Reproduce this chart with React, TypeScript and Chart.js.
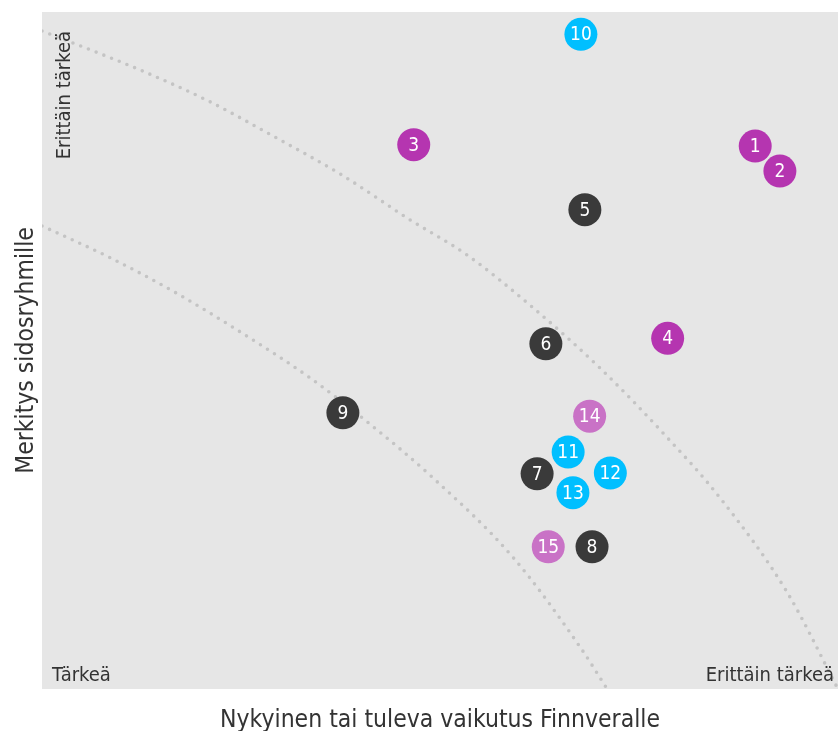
import React, { useEffect, useRef } from "react";
import { Chart, registerables } from "chart.js";

Chart.register(...registerables);

const pointLabels = ["1", "2", "3", "4", "5", "6", "7", "8", "9", "10", "11", "12", "13", "14", "15"];
const impactX = [8.96, 9.27, 4.67, 7.86, 6.82, 6.33, 6.22, 6.91, 3.78, 6.77, 6.61, 7.14, 6.67, 6.88, 6.36];
const importanceY = [8.02, 7.65, 8.04, 5.18, 7.08, 5.10, 3.18, 2.10, 4.08, 9.67, 3.50, 3.19, 2.90, 4.03, 2.10];
const groupOf = ["a", "a", "a", "a", "b", "b", "b", "b", "b", "c", "c", "c", "c", "d", "d"];
const groupColors: Record<string, string> = { a: "#b535b0", b: "#3a3a3a", c: "#00bfff", d: "#c972c6" };

const outerCurveX = [0, 0.46, 1.26, 2.1, 2.93, 3.77, 4.61, 5.34, 6.17, 7.01, 7.85, 8.52, 9.36, 10];
const outerCurveY = [9.72, 9.51, 9.13, 8.68, 8.15, 7.59, 6.94, 6.41, 5.63, 4.74, 3.72, 2.82, 1.43, 0];
const innerCurveX = [0, 0.84, 1.67, 2.51, 3.35, 4.06, 4.91, 5.92, 6.76, 7.1];
const innerCurveY = [6.84, 6.38, 5.86, 5.26, 4.61, 3.97, 3.12, 1.94, 0.62, 0];

const xTitle = "Nykyinen tai tuleva vaikutus Finnveralle";
const yTitle = "Merkitys sidosryhmille";
const cornerTopLeft = "Erittäin tärkeä";
const cornerBottomLeft = "Tärkeä";
const cornerBottomRight = "Erittäin tärkeä";

const FONT = '"DejaVu Sans Condensed", "Liberation Sans Narrow", "DejaVu Sans", sans-serif';

export default function App() {
  const ref = useRef<HTMLCanvasElement | null>(null);

  useEffect(() => {
    document.body.style.margin = "0";
    const canvas = ref.current;
    if (!canvas) return;

    const bgPlugin = {
      id: "bgPlugin",
      beforeDraw(chart: any) {
        const { ctx, chartArea: a } = chart;
        ctx.save();
        ctx.fillStyle = "#e6e6e6";
        ctx.fillRect(a.left, a.top, a.right - a.left, a.bottom - a.top);
        ctx.restore();
      },
      afterDraw(chart: any) {
        const { ctx, chartArea: a } = chart;
        ctx.save();
        ctx.fillStyle = "#333333";
        // corner labels
        ctx.font = `20px ${FONT}`;
        ctx.textBaseline = "alphabetic";
        ctx.textAlign = "left";
        ctx.fillText(cornerBottomLeft, a.left + 10, a.bottom - 8);
        ctx.textAlign = "right";
        ctx.fillText(cornerBottomRight, a.right - 4, a.bottom - 8);
        ctx.save();
        ctx.translate(a.left + 28, a.top + 19);
        ctx.rotate(-Math.PI / 2);
        ctx.textAlign = "right";
        ctx.textBaseline = "alphabetic";
        ctx.fillText(cornerTopLeft, 0, 0);
        ctx.restore();
        // axis titles
        ctx.font = `24.5px ${FONT}`;
        ctx.textAlign = "center";
        ctx.textBaseline = "alphabetic";
        ctx.fillText(xTitle, (a.left + a.right) / 2, 727);
        ctx.save();
        ctx.translate(33, (a.top + a.bottom) / 2);
        ctx.rotate(-Math.PI / 2);
        ctx.fillText(yTitle, 0, 0);
        ctx.restore();
        ctx.restore();
      },
      afterDatasetsDraw(chart: any) {
        const { ctx } = chart;
        const meta = chart.getDatasetMeta(0);
        ctx.save();
        ctx.fillStyle = "#ffffff";
        ctx.font = `19px ${FONT}`;
        ctx.textAlign = "center";
        ctx.textBaseline = "middle";
        meta.data.forEach((el: any, i: number) => {
          ctx.fillText(pointLabels[i], el.x, el.y + 1);
        });
        ctx.restore();
      },
    };

    const curveStyle = {
      showLine: true,
      pointRadius: 0,
      pointHoverRadius: 0,
      borderColor: "#c4c4c4",
      borderWidth: 3.6,
      borderDash: [0, 8.3],
      borderCapStyle: "round" as const,
      cubicInterpolationMode: "monotone" as const,
      fill: false,
      order: 2,
    };

    const chart = new Chart(canvas, {
      type: "scatter",
      data: {
        datasets: [
          {
            label: "points",
            data: impactX.map((x, i) => ({ x, y: importanceY[i] })),
            pointRadius: 16.5,
            pointHoverRadius: 16.5,
            pointBorderWidth: 0,
            backgroundColor: groupOf.map((g) => groupColors[g]),
            borderColor: groupOf.map((g) => groupColors[g]),
            order: 1,
          },
          {
            label: "outer",
            data: outerCurveX.map((x, i) => ({ x, y: outerCurveY[i] })),
            ...curveStyle,
          },
          {
            label: "inner",
            data: innerCurveX.map((x, i) => ({ x, y: innerCurveY[i] })),
            ...curveStyle,
          },
        ],
      },
      options: {
        responsive: false,
        animation: false,
        layout: { autoPadding: false, padding: { left: 42, top: 12, right: 0, bottom: 42 } },
        plugins: { legend: { display: false }, tooltip: { enabled: false } },
        scales: {
          x: { type: "linear", min: 0, max: 10, display: false },
          y: { type: "linear", min: 0, max: 10, display: false },
        },
      },
      plugins: [bgPlugin],
    });

    return () => chart.destroy();
  }, []);

  return <canvas ref={ref} width={838} height={731} style={{ display: "block" }} />;
}
